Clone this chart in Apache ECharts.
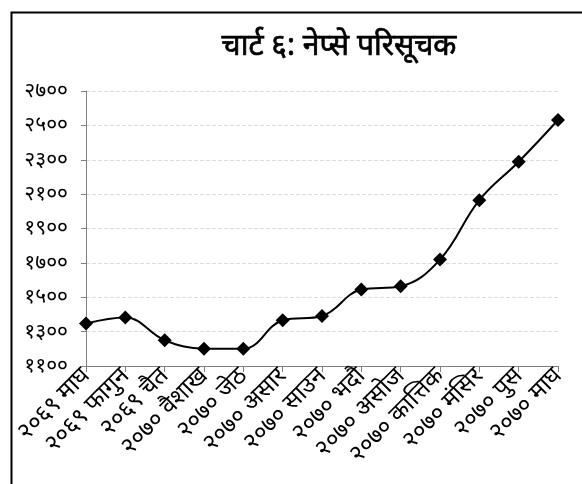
<!DOCTYPE html>
<html>
<head>
<meta charset="utf-8">
<script src="https://cdn.jsdelivr.net/npm/echarts@6/dist/echarts.min.js"></script>
<style>html,body{margin:0;padding:0;background:#fff;}#c{width:582px;height:484px;}</style>
</head>
<body>
<div id="c"></div>
<script>
var titleText = 'चार्ट ६: नेप्से परिसूचक';
var categories = ['२०६९ माघ','२०६९ फागुन','२०६९ चैत','२०७० वैशाख','२०७० जेठ','२०७० असार','२०७० साउन','२०७० भदौ','२०७० असोज','२०७० कात्तिक','२०७० मंसिर','२०७० पुस','२०७० माघ'];
var nepseValues = [1347, 1382, 1250, 1201, 1200, 1366, 1391, 1545, 1564, 1719, 2065, 2288, 2531];
var yMin = 1100, yMax = 2700, yInterval = 200;

var devDigits = ['०','१','२','३','४','५','६','७','८','९'];
function toDev(n){ return String(n).replace(/[0-9]/g, function(d){ return devDigits[+d]; }); }

var chart = echarts.init(document.getElementById('c'));
chart.setOption({
  animation: false,
  backgroundColor: '#fff',
  graphic: [{
    type: 'rect', left: 9, top: 10,
    shape: {width: 620, height: 520},
    style: {fill: 'none', stroke: '#000', lineWidth: 2}
  }],
  title: {
    text: titleText, left: 334, top: 26, textAlign: 'center',
    textStyle: {fontSize: 30, fontWeight: 'normal', color: '#000', fontFamily: 'Noto Sans, sans-serif',
      textBorderColor: '#000', textBorderWidth: 0.7}
  },
  grid: {left: 86, right: 24, top: 91, bottom: 118},
  xAxis: {
    type: 'category', data: categories, boundaryGap: false,
    axisLine: {lineStyle: {color: '#808080', width: 1}},
    axisTick: {alignWithLabel: true, length: 6, lineStyle: {color: '#808080'}},
    axisLabel: {rotate: 45, margin: 6, fontSize: 24, color: '#000', interval: 0, fontFamily: 'Noto Sans, sans-serif'},
    splitLine: {show: false}
  },
  yAxis: {
    type: 'value', min: yMin, max: yMax, interval: yInterval,
    axisLine: {show: true, lineStyle: {color: '#808080', width: 1}},
    axisTick: {show: true, length: 5, lineStyle: {color: '#808080'}},
    axisLabel: {margin: 18, fontSize: 21, color: '#000', formatter: function(v){ return toDev(v); }, fontFamily: 'Noto Sans, sans-serif'},
    splitLine: {show: true, lineStyle: {color: '#dcdcdc', type: 'dashed', width: 1}}
  },
  series: [{
    type: 'line', data: nepseValues, smooth: 0.4,
    symbol: 'diamond', symbolSize: 14,
    lineStyle: {color: '#000', width: 2},
    itemStyle: {color: '#000'}
  }]
});
</script>
</body>
</html>
